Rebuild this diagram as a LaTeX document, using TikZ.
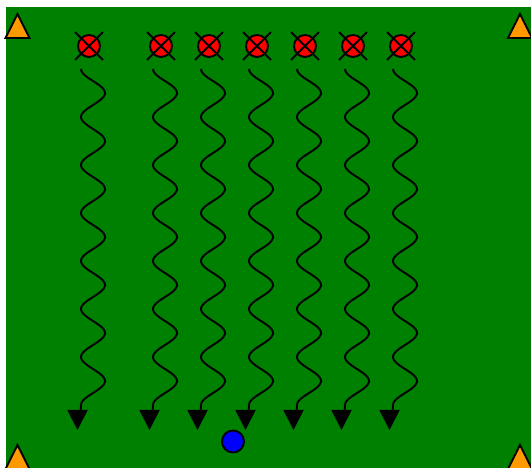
\documentclass[tikz,border=0pt]{standalone}
\usetikzlibrary{arrows.meta, shapes.misc}
\definecolor{pitch}{HTML}{008000}
\definecolor{cone}{HTML}{FF9900}
\definecolor{shirt}{HTML}{FF0000}
\definecolor{ballblue}{HTML}{0000FF}
\begin{document}
\begin{tikzpicture}[
  >={Triangle[length=4mm, width=4mm]},
  player/.style={circle, draw=black, fill=shirt, line width=1.1pt, minimum size=4.4mm, inner sep=0pt},
  crossmark/.style={cross out, draw=black, line width=1.1pt, minimum size=5.2mm, inner sep=0pt},
  ball/.style={circle, draw=black, fill=ballblue, line width=1.1pt, minimum size=4.4mm, inner sep=0pt},
  conebox/.style={fill=cone, draw=black, line width=1.1pt},
  dribble/.style={black, line width=1.1pt, ->, smooth, samples=160},
]

% Background
\useasboundingbox (0,0) rectangle (10.62,9.36);
\fill[white] (0,0) rectangle (10.62,9.36);
\clip (0,0) rectangle (10.62,9.36);

% Pitch
\fill[pitch] (0.12,-0.5) rectangle (11,9.22);

% Cones at the corners
\filldraw[conebox] (0.35,9.08) -- (0.59,8.60) -- (0.11,8.60) -- cycle;
\filldraw[conebox] (10.40,9.08) -- (10.64,8.60) -- (10.16,8.60) -- cycle;
\filldraw[conebox] (0.35,0.46) -- (0.59,-0.02) -- (0.11,-0.02) -- cycle;
\filldraw[conebox] (10.40,0.46) -- (10.64,-0.02) -- (10.16,-0.02) -- cycle;

% Players
\node[player] (p1) at (1.78,8.44) {};
\node[crossmark] (x1) at (p1) {};
\node[player] (p2) at (3.22,8.44) {};
\node[crossmark] (x2) at (p2) {};
\node[player] (p3) at (4.18,8.44) {};
\node[crossmark] (x3) at (p3) {};
\node[player] (p4) at (5.14,8.44) {};
\node[crossmark] (x4) at (p4) {};
\node[player] (p5) at (6.10,8.44) {};
\node[crossmark] (x5) at (p5) {};
\node[player] (p6) at (7.06,8.44) {};
\node[crossmark] (x6) at (p6) {};
\node[player] (p7) at (8.02,8.44) {};
\node[crossmark] (x7) at (p7) {};

% Dribble ends
\coordinate (e1) at (1.55,0.76);
\coordinate (e2) at (2.99,0.76);
\coordinate (e3) at (3.95,0.76);
\coordinate (e4) at (4.91,0.76);
\coordinate (e5) at (5.87,0.76);
\coordinate (e6) at (6.83,0.76);
\coordinate (e7) at (7.79,0.76);

% Dribbling runs
\draw[dribble] plot[domain=0:6.72] ({1.86-0.24*cos(375*\x)}, {7.98-\x}) to[out=-90, in=90] (e1);
\draw[dribble] plot[domain=0:6.72] ({3.30-0.24*cos(375*\x)}, {7.98-\x}) to[out=-90, in=90] (e2);
\draw[dribble] plot[domain=0:6.72] ({4.26-0.24*cos(375*\x)}, {7.98-\x}) to[out=-90, in=90] (e3);
\draw[dribble] plot[domain=0:6.72] ({5.22-0.24*cos(375*\x)}, {7.98-\x}) to[out=-90, in=90] (e4);
\draw[dribble] plot[domain=0:6.72] ({6.18-0.24*cos(375*\x)}, {7.98-\x}) to[out=-90, in=90] (e5);
\draw[dribble] plot[domain=0:6.72] ({7.14-0.24*cos(375*\x)}, {7.98-\x}) to[out=-90, in=90] (e6);
\draw[dribble] plot[domain=0:6.72] ({8.10-0.24*cos(375*\x)}, {7.98-\x}) to[out=-90, in=90] (e7);

% Ball
\node[ball] (ball) at (4.66,0.53) {};

\end{tikzpicture}
\end{document}
